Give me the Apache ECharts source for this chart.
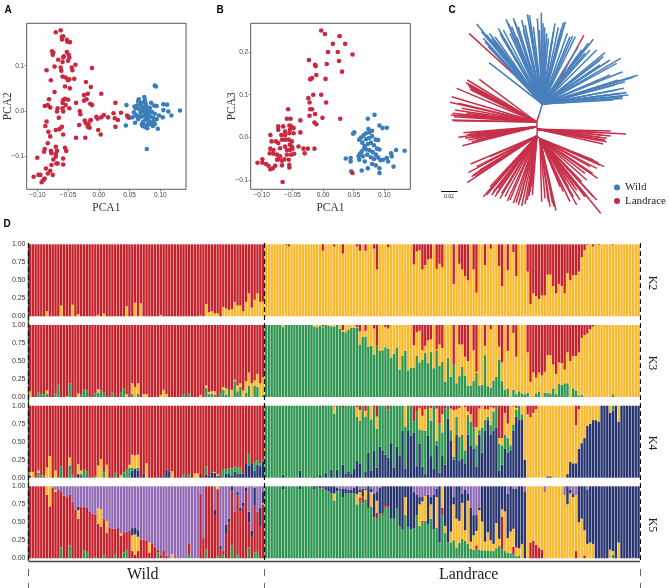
<!DOCTYPE html>
<html>
<head>
<meta charset="utf-8">
<title></title>
<script src="https://cdn.jsdelivr.net/npm/echarts@6/dist/echarts.min.js"></script>
<style>html,body{margin:0;padding:0;background:#fff}#chart{width:669px;height:588px}</style>
</head>
<body>
<div id="chart"></div>
<script>
var pca1Ticks = [-0.10, -0.05, 0, 0.05, 0.10];
var pca2Ticks = [-0.1, 0, 0.1];
var pca3Ticks = [-0.1, 0, 0.1, 0.2];
var structTicks = [0, 0.25, 0.5, 0.75, 1];
var groupNames = ['Wild', 'Landrace'];

// PCA1 / PCA2
var aLandrace = [[-.07,.174],[-.062,.178],[-.06,.164],[-.058,.165],[-.06,.158],[-.052,.157],[-.051,.153],[-.047,.152],[-.076,.132],[-.074,.129],[-.075,.124],[-.052,.13],[-.049,.124],[-.057,.121],[-.058,.118],[-.048,.118],[-.066,.113],[-.05,.111],[-.059,.108],[-.038,.102],[-.072,.098],[-.062,.096],[-.085,.09],[-.061,.089],[-.044,.096],[-.043,.09],[-.011,.095],[-.059,.076],[-.054,.074],[-.05,.068],[-.048,.07],[-.04,.071],[-.078,.068],[-.021,.064],[-.055,.054],[-.047,.05],[-.013,.053],[-.072,.042],[.004,.038],[-.018,.038],[-.024,.035],[-.081,.026],[-.055,.027],[-.05,.025],[-.058,.024],[-.059,.018],[-.02,.026],[-.024,.023],[-.037,.018],[-.014,.016],[-.011,.013],[.027,.018],[-.088,.011],[-.083,.013],[-.079,.008],[-.054,.013],[-.048,.006],[-.067,.006],[-.068,-.001],[-.059,.006],[-.058,-.001],[-.031,0],[-.03,-.007],[-.065,-.015],[-.085,-.023],[-.087,-.033],[-.032,-.031],[-.06,-.035],[-.064,-.04],[-.07,-.042],[-.082,-.046],[-.058,-.052],[-.079,-.056],[-.037,-.059],[-.022,-.059],[-.023,-.021],[-.017,-.029],[-.021,-.027],[-.014,-.021],[-.013,-.02],[-.015,-.037],[-.018,-.035],[-.004,-.013],[-.002,-.017],[.004,-.014],[.008,-.009],[.015,-.014],[-.001,-.042],[.003,-.052],[.024,-.005],[.026,-.016],[.031,-.02],[.027,-.035],[.036,-.004],[.046,-.01],[.048,-.014],[-.083,-.071],[-.088,-.084],[-.089,-.09],[-.078,-.088],[-.077,-.093],[-.07,-.079],[-.068,-.088],[-.07,-.095],[-.07,-.101],[-.055,-.081],[-.053,-.088],[-.1,-.103],[-.074,-.107],[-.058,-.105],[-.077,-.119],[-.069,-.116],[-.067,-.116],[-.058,-.118],[-.086,-.127],[-.079,-.132],[-.083,-.138],[-.075,-.141],[-.098,-.141],[-.095,-.141],[-.106,-.145],[-.088,-.149],[-.09,-.152],[-.093,-.157]];
var aWild = [[.091,.056],[.093,.054],[.132,.001],[.078,-.084],[.045,.013],[.044,-.032],[.059,-.026],[.065,.026],[.064,.021],[.074,.031],[.075,.024],[.058,.01],[.06,.006],[.062,.012],[.105,.015],[.111,.014],[.105,.002],[.113,-.001],[.118,-.01],[.096,-.039],[.104,-.014],[.079,-.038],[.088,-.033],[.091,-.029],[.085,.018],[.09,.012],[.094,.011],[.066,.004],[.07,.006],[.074,.009],[.078,.003],[.082,.001],[.072,0],[.068,-.004],[.075,-.003],[.08,-.005],[.086,-.002],[.091,-.006],[.062,-.011],[.066,-.013],[.07,-.012],[.075,-.01],[.08,-.014],[.084,-.012],[.088,-.015],[.094,-.018],[.064,-.018],[.072,-.024],[.076,-.019],[.081,-.022],[.085,-.025],[.07,-.029],[.074,-.032],[.079,-.03],[.083,-.029],[.071,-.033],[.075,-.035],[.05,-.015],[.047,-.012],[.068,.014],[.077,.012],[.083,.007],[.09,-.02],[.076,.017],[.07,.018],[.098,-.01],[.057,-.003],[.06,-.008],[.055,-.014]];

// PCA1 / PCA3
var bLandrace = [[-.003,.25],[.003,.242],[.027,.237],[.016,.219],[.036,.219],[.008,.2],[.024,.2],[.048,.194],[-.023,.181],[.026,.179],[.006,.172],[-.013,.17],[-.012,.167],[.031,.154],[-.011,.146],[.004,.137],[-.018,.139],[-.021,.136],[-.02,.137],[-.016,.1],[-.003,.1],[-.024,.092],[-.022,.082],[.005,.082],[-.021,.066],[-.018,.066],[-.057,.066],[-.013,.055],[-.022,.051],[-.001,.046],[.028,.044],[-.059,.044],[-.053,.044],[-.037,.04],[-.014,.035],[-.011,.031],[-.037,.012],[.048,-.083],[-.066,-.104],[-.086,.006],[-.073,.026],[-.073,.018],[-.065,.026],[-.055,.028],[-.052,.026],[-.048,.022],[-.062,.014],[-.054,.018],[-.068,.006],[-.062,.006],[-.055,.01],[-.048,.01],[-.084,-.009],[-.077,-.009],[-.073,-.013],[-.067,-.005],[-.062,-.005],[-.056,-.005],[-.051,-.009],[-.04,-.021],[-.032,-.026],[-.025,-.026],[-.014,-.026],[-.03,-.037],[-.086,-.026],[-.081,-.029],[-.087,-.037],[-.081,-.038],[-.075,-.04],[-.07,-.044],[-.059,-.029],[-.054,-.029],[-.05,-.026],[-.059,-.04],[-.052,-.04],[-.047,-.038],[-.099,-.051],[-.107,-.059],[-.099,-.059],[-.093,-.062],[-.089,-.066],[-.086,-.074],[-.082,-.072],[-.078,-.066],[-.073,-.051],[-.067,-.054],[-.067,-.065],[-.056,-.052],[-.055,-.064],[-.055,-.07],[-.063,-.051],[-.075,-.052],[-.054,-.017],[-.051,-.021],[-.062,-.021],[-.07,-.025]];
var bWild = [[.073,.044],[.084,.053],[.092,.028],[.097,.022],[.104,.023],[.051,.012],[.049,.009],[.133,-.031],[.119,-.029],[.115,-.068],[.111,-.037],[.112,-.044],[.104,-.048],[.106,-.056],[.092,-.072],[.092,-.083],[.073,-.072],[.063,-.077],[.046,-.079],[.037,-.049],[.045,-.048],[.045,-.056],[.058,-.044],[.059,-.052],[.063,-.033],[.068,-.056],[.07,.01],[.076,.012],[.08,.016],[.074,.02],[.066,.005],[.062,0],[.059,-.005],[.064,-.012],[.07,-.004],[.075,-.001],[.08,.003],[.086,-.005],[.09,-.006],[.068,-.02],[.073,-.015],[.078,-.012],[.083,-.018],[.088,-.026],[.092,-.028],[.076,-.03],[.081,-.034],[.086,-.04],[.072,-.04],[.078,-.046],[.083,-.05],[.09,-.047],[.094,-.053],[.08,-.062],[.086,-.065],[.098,-.052],[.067,-.026],[.071,-.028],[.06,-.038],[.065,-.044]];

// tree tips, in tree units (2500 units = 1 substitution per site)
var wildTips = [[177,188],[140,72],[155,95],[160,115],[165,125],[175,140],[178,100],[185,115],[190,125],[200,130],[205,85],[210,100],[215,110],[225,125],[228,58],[235,70],[245,80],[250,55],[255,65],[265,80],[275,60],[280,90],[292,43],[298,45],[300,65],[303,85],[322,55],[334,38],[338,70],[344,82],[345,125],[355,115],[365,125],[375,70],[385,82],[395,85],[400,68],[406,65],[412,100],[420,110],[428,108],[436,110],[445,140],[475,130],[490,118],[480,150],[500,150],[525,158],[520,170],[572,175],[540,180],[510,195],[578,215],[623,226],[610,232],[585,245],[555,255],[582,265],[590,278],[595,285],[578,290],[578,295],[550,300],[170,105],[195,110],[220,90],[240,100],[260,110],[285,75],[310,80],[328,90],[350,100],[370,95],[390,100],[455,150],[465,160],[510,180],[560,190],[540,225],[565,240],[560,270],[530,285],[570,280]];
var wildStrayTips = [[117,100],[462,105]];
var landUpperTips = [[112,240],[112,250],[115,255],[118,262],[120,268],[148,238],[80,265],[65,290],[60,307],[85,310],[95,325],[62,345],[72,350],[65,360],[70,362],[100,345],[110,340],[108,248],[117,258],[125,270],[75,330],[68,340],[85,345]];
var landMidTips = [[100,398],[85,412],[118,400],[130,408],[105,415],[135,412],[97,437],[125,425],[140,420],[165,410],[110,405],[122,412],[115,420]];
var landRightTips = [[542,393],[588,402],[542,408],[530,415],[505,420],[530,425],[520,432],[520,398],[515,405],[510,412],[525,420]];
var landLowerLeftTips = [[122,492],[180,470],[115,518],[130,525],[135,530],[112,548],[150,510],[160,590],[170,585],[185,585],[195,590],[210,595],[232,603],[215,580],[250,610],[265,615],[275,618],[285,612],[297,588],[307,585],[305,560],[140,500],[145,515],[125,530],[175,575],[190,575],[200,580],[205,565],[180,560],[225,590],[240,600],[258,608],[270,600],[292,600],[300,575]];
var landLowerRightTips = [[335,605],[355,605],[378,632],[368,610],[420,605],[440,615],[460,580],[475,595],[512,640],[500,600],[523,500],[505,488],[500,505],[503,535],[470,540],[440,570],[415,560],[400,575],[345,595],[360,620],[372,620],[430,590],[450,600],[465,590],[490,590],[510,495],[490,480],[480,500],[488,520],[465,520],[455,545],[430,555],[410,540],[390,560]];
var landStem = [[327,345],[320,366],[319,380],[322,388],[321,408]];

// ancestry proportions in percent, 83 wild samples then 132 landrace samples.
// each K has one component per group left out: it is what remains of 100
var k2YellowW = [0,0,0,0,0,0,7,0,0,0, 0,15,0,0,0,16,0,3,0,0, 0,0,0,0,2,0,4,0,0,0, 0,0,0,0,14,0,0,19,0,18, 0,0,0,0,0,0,2,0,0,0, 0,0,0,0,0,0,0,0,0,0, 1,0,17,6,7,4,4,0,13,11, 9,10,20,15,15,7,20,32,12,23, 32,20,21];
var k2RedL = [0,0,0,0,0,0,0,1,3,0, 0,0,0,0,0,0,0,0,0,0, 9,0,0,0,3,0,0,13,0,0, 0,0,3,9,0,9,0,0,6,35, 0,0,0,4,0,0,0,0,0,0, 0,0,28,10,8,35,29,21,20,0, 34,27,32,0,0,0,55,0,27,35, 44,50,0,35,67,0,0,29,0,6, 0,0,30,58,0,36,0,11,44,0, 0,0,38,83,68,72,76,71,71,42, 42,58,68,55,58,68,40,50,43,43, 38,18,8,1,0,3,0,1,0,0, 0,0,1,0,0,0,0,0,0,0,0,0];

var k3GreenW = [0,0,0,7,4,4,4,0,0,5, 17,0,0,0,19,0,0,0,4,10, 9,0,0,5,6,9,6,0,0,6, 0,0,6,12,0,0,4,0,4,0, 0,0,0,0,0,0,0,0,0,0, 0,0,0,0,4,0,5,0,0,0, 0,0,13,4,5,3,0,5,10,3, 11,0,22,8,14,0,6,16,0,16, 14,0,3];
var k3YellowW = [8,0,0,0,0,0,5,0,0,0, 0,0,0,1,0,0,0,5,0,0, 0,0,0,0,5,0,0,0,0,0, 0,0,0,0,4,0,15,14,15,0, 4,4,0,0,0,0,3,10,4,0, 0,0,0,0,0,0,0,0,0,0, 3,0,3,3,3,5,0,0,4,9, 0,10,2,8,5,9,16,18,19,7, 18,19,24];
var k3GreenL = [100,100,100,100,100,100,97,100,100,100, 100,100,100,100,100,100,100,98,97,99, 97,100,99,98,98,100,95,91,90,93, 96,96,96,73,84,84,70,71,59,72, 64,65,69,67,55,60,69,38,57,64, 37,41,41,57,48,52,61,47,63,40, 65,43,49,21,54,28,45,19,29,42, 30,16,16,22,34,16,17,58,15,13, 23,28,52,22,10,12,0,10,4,8, 5,4,6,0,1,5,7,0,6,6, 5,12,4,18,17,19,19,0,12,9, 2,3,0,0,0,0,0,0,0,0, 0,0,4,0,0,0,0,0,0,0,0,0];
var k3RedL = [0,0,0,0,0,0,0,0,0,0, 0,0,0,0,0,0,0,0,0,0, 2,0,0,0,0,0,0,7,0,0, 0,0,3,9,0,8,0,0,5,28, 0,0,3,5,0,0,0,0,0,0, 0,0,28,10,8,35,29,21,20,0, 34,27,32,0,0,0,55,0,27,27, 44,50,0,35,65,0,0,29,0,6, 0,0,30,52,0,36,0,11,44,0, 0,0,38,79,66,73,66,70,65,42, 42,55,68,52,53,62,38,50,43,43, 38,18,14,12,6,2,0,0,0,0, 0,0,0,0,0,0,0,0,0,0,0,0];

var k4NavyW = [3,0,0,0,0,0,0,0,0,0, 0,0,0,0,0,0,0,5,2,0, 0,0,0,0,0,0,0,0,0,0, 0,0,0,0,0,0,10,12,10,0, 6,0,0,0,0,0,1,2,11,8, 0,0,0,0,0,0,0,0,0,0, 5,0,4,3,7,7,3,1,0,6, 5,3,8,5,6,6,19,17,19,10, 18,16,22];
var k4GreenW = [0,0,0,7,3,3,0,0,0,0, 1,16,0,0,17,4,0,0,3,11, 9,0,0,2,0,0,8,0,0,0, 6,0,0,7,12,14,4,1,4,0, 0,0,0,0,0,0,0,0,0,0, 0,0,0,0,4,0,5,0,0,0, 0,0,12,0,0,0,0,0,12,6, 8,10,8,9,8,0,0,16,0,12, 6,4,4];
var k4YellowW = [5,8,0,3,0,0,14,30,0,10, 0,0,0,0,11,0,0,14,5,0, 0,0,0,0,17,26,0,18,0,0, 0,0,4,0,0,4,18,18,18,0, 0,20,0,0,0,0,0,0,0,0, 9,0,0,0,0,0,0,0,6,6, 0,0,0,0,0,1,2,0,0,0, 0,0,0,0,0,0,0,0,0,0, 0,0,0];
var k4NavyL = [0,0,0,0,0,0,4,0,0,0, 0,0,10,0,0,0,0,2,0,4, 0,7,0,11,0,11,0,18,6,9, 5,12,24,20,0,8,35,10,38,14, 43,38,32,28,48,14,43,30,65,13, 65,58,63,16,47,15,5,58,30,12, 45,7,30,18,82,52,25,60,24,27, 20,60,45,40,15,60,35,65,80,60, 65,70,10,18,40,35,38,65,85,80, 80,25,0,0,0,0,0,0,0,2, 2,0,0,0,0,0,5,22,20,20, 40,48,55,72,75,80,80,78,100,100, 100,90,93,100,78,100,100,100,100,100,100,100];
var k4YellowL = [0,0,0,0,0,0,0,0,0,0, 0,0,0,0,0,0,0,0,0,0, 0,0,0,0,10,0,0,0,0,0, 0,0,13,15,0,8,0,19,0,17, 0,0,0,0,0,0,0,0,0,29, 0,0,0,0,30,20,30,0,18,0, 45,0,25,0,0,30,65,10,40,40, 60,5,10,0,25,30,30,15,10,25, 5,0,8,10,30,20,55,25,3,0, 12,75,88,84,90,95,100,100,100,98, 98,100,100,100,100,100,95,78,80,53, 55,52,45,28,25,20,20,22,0,0, 0,10,0,0,22,0,0,0,0,0,0,0];
var k4RedL = [0,0,0,0,0,0,0,0,0,0, 0,0,0,0,0,0,0,0,0,0, 3,0,0,0,1,0,0,3,0,0, 0,0,2,6,0,7,0,0,2,15, 0,0,1,5,0,0,0,0,0,0, 0,0,22,8,3,14,5,3,3,0, 4,25,12,4,0,4,6,5,3,0, 2,8,12,30,30,4,1,5,5,2, 3,2,45,45,10,25,0,1,3,0, 0,0,12,16,10,5,0,0,0,0, 0,0,0,0,0,0,0,0,0,27, 5,0,0,0,0,0,0,0,0,0, 0,0,0,0,0,0,0,0,0,0,0,0];

var k5GreenW = [0,0,0,0,0,0,0,0,0,0, 0,15,0,0,18,0,0,0,0,11, 9,0,0,2,0,0,6,0,0,0, 5,0,0,8,12,0,0,0,0,0, 0,0,0,0,0,8,0,0,0,0, 0,0,0,0,0,0,6,0,0,0, 0,0,12,0,0,0,3,0,6,0, 0,18,0,6,0,0,0,15,0,8, 9,0,0];
var k5RedW = [100,100,100,100,100,100,88,72,98,92, 95,77,87,85,70,78,68,55,71,61, 61,65,62,59,48,44,49,35,43,41, 36,42,31,27,25,38,10,5,10,26, 26,25,8,20,16,4,5,10,4,0, 0,0,0,0,0,0,14,0,0,0, 90,28,88,100,100,60,93,12,4,35, 50,75,65,81,65,72,93,35,30,65, 56,45,75];
var k5YellowW = [0,0,0,0,0,0,12,28,0,3, 0,0,0,0,0,0,0,12,0,0, 0,0,0,0,22,24,0,17,0,0, 0,0,4,0,0,0,22,28,20,0, 0,0,14,0,0,0,0,0,0,0, 6,0,0,0,0,0,0,0,0,0, 0,0,0,0,0,0,4,0,0,0, 0,0,0,0,0,0,0,0,0,0, 0,0,2];
var k5NavyW = [0,0,0,0,0,0,0,0,0,0, 0,0,0,0,0,0,0,5,0,0, 0,0,0,0,0,0,0,0,0,0, 0,0,0,0,0,0,10,9,9,0, 0,0,0,0,0,0,0,0,0,0, 0,0,0,0,0,0,0,0,0,0, 0,0,0,0,0,7,0,5,0,12, 5,7,0,5,5,5,5,15,8,25, 0,25,15];
var k5GreenL = [100,100,100,100,100,100,96,100,100,100, 100,100,96,100,100,100,100,96,99,97, 97,95,93,90,80,93,95,85,90,90, 90,90,75,80,76,82,70,72,57,55, 62,60,70,70,55,55,70,45,40,60, 43,40,42,60,45,50,52,47,55,40, 42,22,60,35,22,22,25,15,22,27, 24,20,13,12,13,12,11,11,11,10, 10,14,17,13,10,8,7,6,3,4, 0,0,0,0,0,0,0,0,0,0, 0,0,0,0,0,0,0,0,0,0, 0,0,0,0,0,0,0,0,0,0, 0,0,5,0,0,0,0,0,0,0,0,0];
var k5RedL = [0,0,0,0,0,0,0,0,0,0, 0,0,0,0,0,0,0,0,0,0, 2,0,0,0,0,0,0,0,0,0, 0,0,0,4,10,0,0,0,0,8, 0,2,4,2,0,0,0,0,0,0, 0,0,0,0,0,2,0,0,0,0, 0,0,10,0,0,0,0,0,0,0, 0,0,0,0,5,0,0,0,0,0, 0,0,0,45,0,0,0,10,0,0, 0,0,0,22,24,19,15,12,0,0, 0,0,0,0,0,0,0,0,0,10, 0,0,4,0,0,0,0,0,0,0, 0,0,0,0,0,0,0,0,0,1,0,0];
var k5YellowL = [0,0,0,0,0,0,0,0,0,0, 0,0,0,0,0,0,0,0,0,0, 0,0,0,0,10,0,0,0,0,0, 0,0,14,8,0,13,0,20,0,17, 0,0,0,0,0,0,0,0,0,25, 0,0,0,0,30,27,35,0,20,0, 43,0,30,10,0,15,50,40,30,50, 15,60,10,20,20,55,40,12,25,15, 10,35,10,10,55,20,30,25,12,10, 20,0,100,78,76,81,85,88,92,100, 99,100,100,100,100,88,75,90,85,78, 50,55,35,20,22,20,0,0,0,0, 0,12,5,0,22,0,0,0,0,0,0,0];
var k5PurpleL = [0,0,0,0,0,0,0,0,0,0, 0,0,0,0,0,0,0,0,0,0, 0,0,0,0,0,2,3,3,3,5, 5,2,0,5,3,3,0,3,10,8, 2,0,0,0,0,0,0,0,0,0, 0,0,8,12,15,15,12,12,15,12, 3,0,0,0,0,0,15,0,0,10, 5,10,30,40,40,30,0,0,0,0, 0,0,0,0,0,10,0,3,3,0, 0,8,0,0,0,0,0,0,8,0, 1,0,0,0,0,12,0,5,10,16, 0,0,0,5,0,0,0,0,0,0, 0,0,0,0,0,0,0,0,0,0,0,0];

var nWild = 83, nLandrace = 132;
var RED = '#C4212B', YELLOW = '#FBB82B', GREEN = '#2E9651', NAVY = '#27346F', PURPLE = '#9169B4';
var serif = '"Liberation Serif", serif', sans = '"Liberation Sans", sans-serif';

// fill the missing (null) component of a group with what is left of 100
function complete(parts, n) {
    return parts.map(function (p) {
        if (p) return p.slice(0, n);
        var out = [];
        for (var i = 0; i < n; i++) {
            var s = 0;
            parts.forEach(function (q) { if (q) s += q[i] || 0; });
            out.push(Math.max(0, 100 - s));
        }
        return out;
    });
}
function panel(wildParts, landParts, colors) {
    var w = complete(wildParts, nWild), l = complete(landParts, nLandrace);
    return { rows: w.map(function (a, c) { return a.concat(l[c]); }), colors: colors };
}
// bottom to top, as stacked in the figure
var panels = [
    panel([k2YellowW, null], [null, k2RedL], [YELLOW, RED]),
    panel([k3GreenW, k3YellowW, null], [k3GreenL, null, k3RedL], [GREEN, YELLOW, RED]),
    panel([k4NavyW, k4GreenW, k4YellowW, null], [k4NavyL, null, k4YellowL, k4RedL], [NAVY, GREEN, YELLOW, RED]),
    panel([k5GreenW, k5RedW, k5YellowW, k5NavyW, null], [k5GreenL, k5RedL, k5YellowL, null, k5PurpleL], [GREEN, RED, YELLOW, NAVY, PURPLE])
];
var panelTops = [244.3, 325, 405.7, 486.3];
var sampleIds = [];
for (var s = 0; s < nWild + nLandrace; s++) sampleIds.push(s);

function fmt(d) {
    return function (v) { return v.toFixed(d).replace('-', '\u2212'); };
}
function pcaAxes(grid, ticks, digits, min, max, name) {
    return {
        gridIndex: grid, type: 'value', min: min, max: max, name: name, nameLocation: 'middle', nameGap: 13, nameMoveOverlap: false,
        nameTextStyle: { fontFamily: serif, fontSize: 11.5, color: '#333' },
        splitLine: { show: false }, axisLine: { show: false, onZero: false },
        axisTick: { length: 2, lineStyle: { color: '#555', width: 0.7 }, customValues: ticks },
        axisLabel: { fontFamily: sans, fontSize: 6.5, color: '#444', margin: 2.5, customValues: ticks, formatter: fmt(digits) }
    };
}
function links(from, tips) {
    return tips.map(function (t) { return { coords: [from, t] }; });
}
function treeSeries(name, color, data, width) {
    return {
        type: 'lines', name: name, coordinateSystem: 'cartesian2d', xAxisIndex: 2, yAxisIndex: 2,
        data: data, lineStyle: { color: color, width: width, opacity: 1 }, silent: true
    };
}
function overlayLines(data, color, width, dash) {
    return {
        type: 'lines', coordinateSystem: 'cartesian2d', xAxisIndex: 7, yAxisIndex: 7, z: 10, silent: true,
        data: data, lineStyle: { color: color, width: width, opacity: 1, type: dash || 'solid' }
    };
}

var grids = [
    { left: 26.7, top: 23.3, width: 159.3, height: 166, show: true, borderColor: '#5a5a5a', borderWidth: 1, outerBoundsMode: 'none' },
    { left: 250.7, top: 23.3, width: 159.6, height: 166, show: true, borderColor: '#5a5a5a', borderWidth: 1, outerBoundsMode: 'none' },
    { left: 430, top: 0, width: 239, height: 220, outerBoundsMode: 'none' }
];
var xAxes = [
    pcaAxes(0, pca1Ticks, 2, -0.1173, 0.1418, 'PCA1'),
    pcaAxes(1, pca1Ticks, 2, -0.118, 0.1423, 'PCA1'),
    { gridIndex: 2, type: 'value', min: 0, max: 717, show: false }
];
var yAxes = [
    pcaAxes(0, pca2Ticks, 1, -0.1728, 0.1936, 'PCA2'),
    pcaAxes(1, pca3Ticks, 1, -0.121, 0.267, 'PCA3'),
    { gridIndex: 2, type: 'value', min: 0, max: 660, inverse: true, show: false }
];
panelTops.forEach(function (top, p) {
    grids.push({ left: 28.5, top: top, width: 611.5, height: 72, outerBoundsMode: 'none' });
    xAxes.push({ gridIndex: p + 3, type: 'category', data: sampleIds, show: false });
    yAxes.push({
        gridIndex: p + 3, type: 'value', min: 0, max: 1, interval: 0.25,
        splitLine: { show: false }, axisLine: { show: false }, axisTick: { show: false },
        axisLabel: { fontFamily: sans, fontSize: 7, color: '#333', margin: 3, formatter: fmt(2), customValues: structTicks }
    });
});
// frame and group separators of panel D, axes run in samples and pixels down from the top of the panel
grids.push({ left: 28.5, top: 243, width: 611.5, height: 345, outerBoundsMode: 'none' });
xAxes.push({ gridIndex: 7, type: 'value', min: 0, max: nWild + nLandrace, show: false });
yAxes.push({ gridIndex: 7, type: 'value', min: 0, max: 345, inverse: true, show: false });

var series = [
    { type: 'scatter', xAxisIndex: 0, yAxisIndex: 0, data: aWild, symbolSize: 4.6, itemStyle: { color: '#3B7DB9', opacity: 1 }, silent: true },
    { type: 'scatter', xAxisIndex: 0, yAxisIndex: 0, data: aLandrace, symbolSize: 4.6, itemStyle: { color: '#C9283F', opacity: 1 }, silent: true },
    { type: 'scatter', xAxisIndex: 1, yAxisIndex: 1, data: bWild, symbolSize: 4.6, itemStyle: { color: '#3B7DB9', opacity: 1 }, silent: true },
    { type: 'scatter', xAxisIndex: 1, yAxisIndex: 1, data: bLandrace, symbolSize: 4.6, itemStyle: { color: '#C9283F', opacity: 1 }, silent: true },
    treeSeries(groupNames[1], '#C8304A',
        links([250, 222], [wildStrayTips[0]]).concat(links([385, 245], [wildStrayTips[1]]))
            .concat(links(landStem[1], landUpperTips)).concat(links(landStem[2], landMidTips))
            .concat(links(landStem[3], landRightTips)).concat(links(landStem[4], landLowerLeftTips))
            .concat(links([330, 416], landLowerRightTips)).concat([{ coords: landStem.slice(0, 2) }, { coords: landStem.slice(1, 3) }, { coords: landStem.slice(2, 4) }, { coords: landStem.slice(3, 5) }, { coords: [landStem[4], [330, 416]] }]), 1.5),
    treeSeries(groupNames[0], '#4A80BC', links([337, 312], wildTips).concat(links([337, 312], [[250, 222], [385, 245], landStem[0]])), 1.6),
    treeSeries('scale', '#111', [{ coords: [[33, 573], [83, 573]] }], 1.2),
    overlayLines([{ coords: [[0, 0], [0, 318]] }, { coords: [[0, 318], [nWild + nLandrace, 318]] }], '#444', 1.4),
    overlayLines([
        { coords: [[0, 0], [0, 318]] }, { coords: [[nWild, 0], [nWild, 318]] }, { coords: [[nWild + nLandrace, 0], [nWild + nLandrace, 318]] }
    ], '#111', 1.2, [5, 3]),
    overlayLines([
        { coords: [[0, 326], [0, 345]] }, { coords: [[nWild, 326], [nWild, 345]] }, { coords: [[nWild + nLandrace, 326], [nWild + nLandrace, 345]] }
    ], '#666', 1, [7, 7])
];
panels.forEach(function (pn, p) {
    pn.rows.forEach(function (row, c) {
        series.push({
            type: 'bar', xAxisIndex: p + 3, yAxisIndex: p + 3, stack: 'k' + p, barCategoryGap: '16%',
            data: row.map(function (v) { return v / 100; }), itemStyle: { color: pn.colors[c] }, silent: true
        });
    });
});

function label(text, x, y, size, family, extra) {
    var st = { text: text, fontSize: size, fontFamily: family, fill: '#222', align: 'center', verticalAlign: 'middle' };
    for (var k in extra) st[k] = extra[k];
    return { type: 'text', x: x, y: y, style: st, z: 20 };
}
var texts = [
    label('A', 8, 10, 10, sans, { fontWeight: 'bold', fill: '#000' }),
    label('B', 220, 10, 10, sans, { fontWeight: 'bold', fill: '#000' }),
    label('C', 452, 10, 10, sans, { fontWeight: 'bold', fill: '#000' }),
    label('D', 7, 224, 10, sans, { fontWeight: 'bold', fill: '#000' }),
    label('0.02', 449, 197, 5, sans, {}),
    label('Wild', 142.7, 575, 16, serif, {}),
    label('Landrace', 468.7, 575, 16, serif, {})
];
['K2', 'K3', 'K4', 'K5'].forEach(function (k, i) {
    var t = label(k, 651.7, [283, 363, 443, 525][i], 12, serif, {});
    t.rotation = -Math.PI / 2;
    texts.push(t);
});

var chart = echarts.init(document.getElementById('chart'), null, { renderer: 'canvas' });
chart.setOption({
    animation: false,
    backgroundColor: '#fff',
    tooltip: { show: false },
    legend: {
        left: 609, top: 177, orient: 'vertical', itemWidth: 6, itemHeight: 6, itemGap: 2.5, selectedMode: false,
        textStyle: { fontFamily: serif, fontSize: 11, color: '#222' },
        data: [
            { name: groupNames[0], icon: 'circle', itemStyle: { color: '#3B7DB9', borderWidth: 0 }, lineStyle: { width: 0 } },
            { name: groupNames[1], icon: 'circle', itemStyle: { color: '#C9283F', borderWidth: 0 }, lineStyle: { width: 0 } }
        ]
    },
    grid: grids,
    xAxis: xAxes,
    yAxis: yAxes,
    series: series,
    graphic: texts
});
</script>
</body>
</html>
